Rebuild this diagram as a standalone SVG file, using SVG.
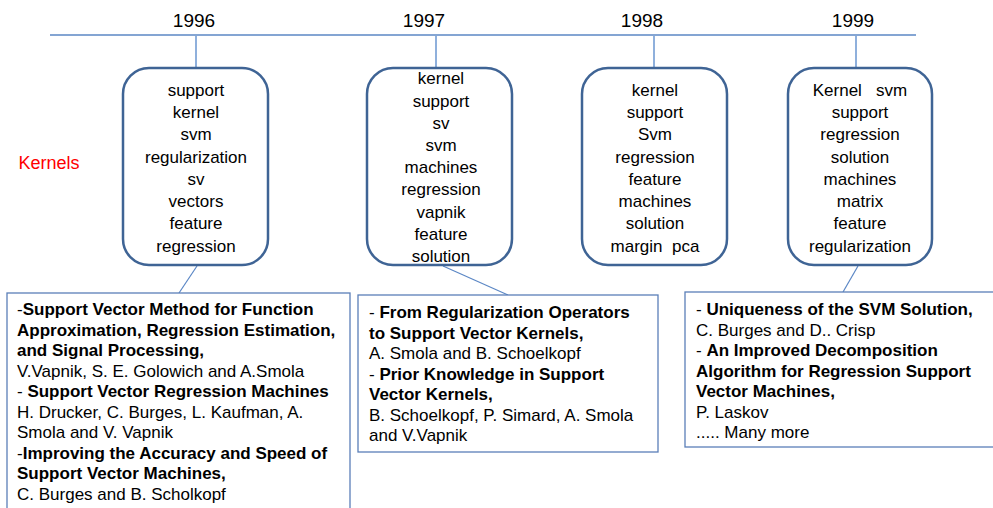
<svg xmlns="http://www.w3.org/2000/svg" width="993" height="508" viewBox="0 0 993 508">
<style>
.year{font-family:"Liberation Sans",Arial,sans-serif;font-size:19px;fill:#000;text-anchor:middle}
.kw{font-family:"Liberation Sans",Arial,sans-serif;font-size:17px;fill:#000;text-anchor:middle}
.ref{font-family:"Liberation Sans",Arial,sans-serif;font-size:17px;fill:#000}
.b{font-weight:bold}
.rbox{fill:#fff;stroke:#3f6495;stroke-width:2.5}
.pbox{fill:#fff;stroke:#5b7fb8;stroke-width:1.3}
.tl{stroke:#5b87c5;stroke-width:1.5;fill:none}
.tick{stroke:#8fb0dc;stroke-width:2;fill:none}
.conn{stroke:#5b87c5;stroke-width:1.2;fill:none}
</style>
<rect width="993" height="508" fill="#fff"/>
<g id="timeline">
<line class="tl" x1="50" y1="35" x2="916" y2="35"/>
<text class="year" x="194" y="27">1996</text>
<text class="year" x="424" y="27">1997</text>
<text class="year" x="642" y="27">1998</text>
<text class="year" x="853" y="27">1999</text>
</g>
<g id="connectors">
<line class="tick" x1="196" y1="36" x2="196" y2="68"/>
<line class="tick" x1="436" y1="36" x2="436" y2="68"/>
<line class="tick" x1="654" y1="36" x2="654" y2="68"/>
<line class="tick" x1="856" y1="36" x2="856" y2="68"/>
<line class="conn" x1="197" y1="266" x2="179" y2="293"/>
<line class="conn" x1="443" y1="266" x2="508" y2="295"/>
<line class="conn" x1="858" y1="266" x2="843" y2="292"/>
</g>
<g id="label-kernels">
<text x="49" y="169" font-family="Liberation Sans, Arial, sans-serif" font-size="18" fill="#ff0000" text-anchor="middle">Kernels</text>
</g>
<g id="node-1996">
<rect class="rbox" x="123" y="68" width="145" height="197" rx="26"/>
<text class="kw" x="196" y="96">support</text>
<text class="kw" x="196" y="118">kernel</text>
<text class="kw" x="196" y="140">svm</text>
<text class="kw" x="196" y="163">regularization</text>
<text class="kw" x="196" y="185">sv</text>
<text class="kw" x="196" y="207">vectors</text>
<text class="kw" x="196" y="229">feature</text>
<text class="kw" x="196" y="252">regression</text>
</g>
<g id="node-1997">
<rect class="rbox" x="367" y="68" width="145" height="197" rx="26"/>
<text class="kw" x="441" y="84">kernel</text>
<text class="kw" x="441" y="107">support</text>
<text class="kw" x="441" y="129">sv</text>
<text class="kw" x="441" y="151">svm</text>
<text class="kw" x="441" y="173">machines</text>
<text class="kw" x="441" y="195">regression</text>
<text class="kw" x="441" y="218">vapnik</text>
<text class="kw" x="441" y="240">feature</text>
<text class="kw" x="441" y="262">solution</text>
</g>
<g id="node-1998">
<rect class="rbox" x="582" y="68" width="145" height="197" rx="26"/>
<text class="kw" x="655" y="96">kernel</text>
<text class="kw" x="655" y="118">support</text>
<text class="kw" x="655" y="140">Svm</text>
<text class="kw" x="655" y="163">regression</text>
<text class="kw" x="655" y="185">feature</text>
<text class="kw" x="655" y="207">machines</text>
<text class="kw" x="655" y="229">solution</text>
<text class="kw" x="655" y="252" xml:space="preserve">margin  pca</text>
</g>
<g id="node-1999">
<rect class="rbox" x="788" y="68" width="144" height="197" rx="26"/>
<text class="kw" x="860" y="96" xml:space="preserve">Kernel   svm</text>
<text class="kw" x="860" y="118">support</text>
<text class="kw" x="860" y="140">regression</text>
<text class="kw" x="860" y="163">solution</text>
<text class="kw" x="860" y="185">machines</text>
<text class="kw" x="860" y="207">matrix</text>
<text class="kw" x="860" y="229">feature</text>
<text class="kw" x="860" y="252">regularization</text>
</g>
<g id="papers-1996">
<rect class="pbox" x="7" y="293" width="343" height="230"/>
<text class="ref" x="17" y="315">-<tspan class="b">Support Vector Method for Function</tspan></text>
<text class="ref b" x="17" y="335.5">Approximation, Regression Estimation,</text>
<text class="ref b" x="17" y="356">and Signal Processing,</text>
<text class="ref" x="17" y="376.5">V.Vapnik, S. E. Golowich and A.Smola</text>
<text class="ref" x="17" y="397" xml:space="preserve">- <tspan class="b">Support Vector Regression Machines</tspan></text>
<text class="ref" x="17" y="417.5">H. Drucker, C. Burges, L. Kaufman, A.</text>
<text class="ref" x="17" y="438">Smola and V. Vapnik</text>
<text class="ref" x="17" y="458.5">-<tspan class="b">Improving the Accuracy and Speed of</tspan></text>
<text class="ref b" x="17" y="479">Support Vector Machines,</text>
<text class="ref" x="17" y="499.5">C. Burges and B. Scholkopf</text>
</g>
<g id="papers-1997">
<rect class="pbox" x="358" y="295" width="300" height="157"/>
<text class="ref" x="369" y="318" xml:space="preserve">- <tspan class="b">From Regularization Operators</tspan></text>
<text class="ref b" x="369" y="338.5">to Support Vector Kernels,</text>
<text class="ref" x="369" y="359">A. Smola and B. Schoelkopf</text>
<text class="ref" x="369" y="379.5" xml:space="preserve">- <tspan class="b">Prior Knowledge in Support</tspan></text>
<text class="ref b" x="369" y="400">Vector Kernels,</text>
<text class="ref" x="369" y="420.5">B. Schoelkopf, P. Simard, A. Smola</text>
<text class="ref" x="369" y="441">and V.Vapnik</text>
</g>
<g id="papers-1999">
<rect class="pbox" x="685" y="292" width="320" height="155"/>
<text class="ref" x="696" y="315" xml:space="preserve">- <tspan class="b">Uniqueness of the SVM Solution,</tspan></text>
<text class="ref" x="696" y="335.5">C. Burges and D.. Crisp</text>
<text class="ref" x="696" y="356" xml:space="preserve">- <tspan class="b">An Improved Decomposition</tspan></text>
<text class="ref b" x="696" y="376.5">Algorithm for Regression Support</text>
<text class="ref b" x="696" y="397">Vector Machines,</text>
<text class="ref" x="696" y="417.5">P. Laskov</text>
<text class="ref" x="696" y="438">..... Many more</text>
</g>
</svg>
